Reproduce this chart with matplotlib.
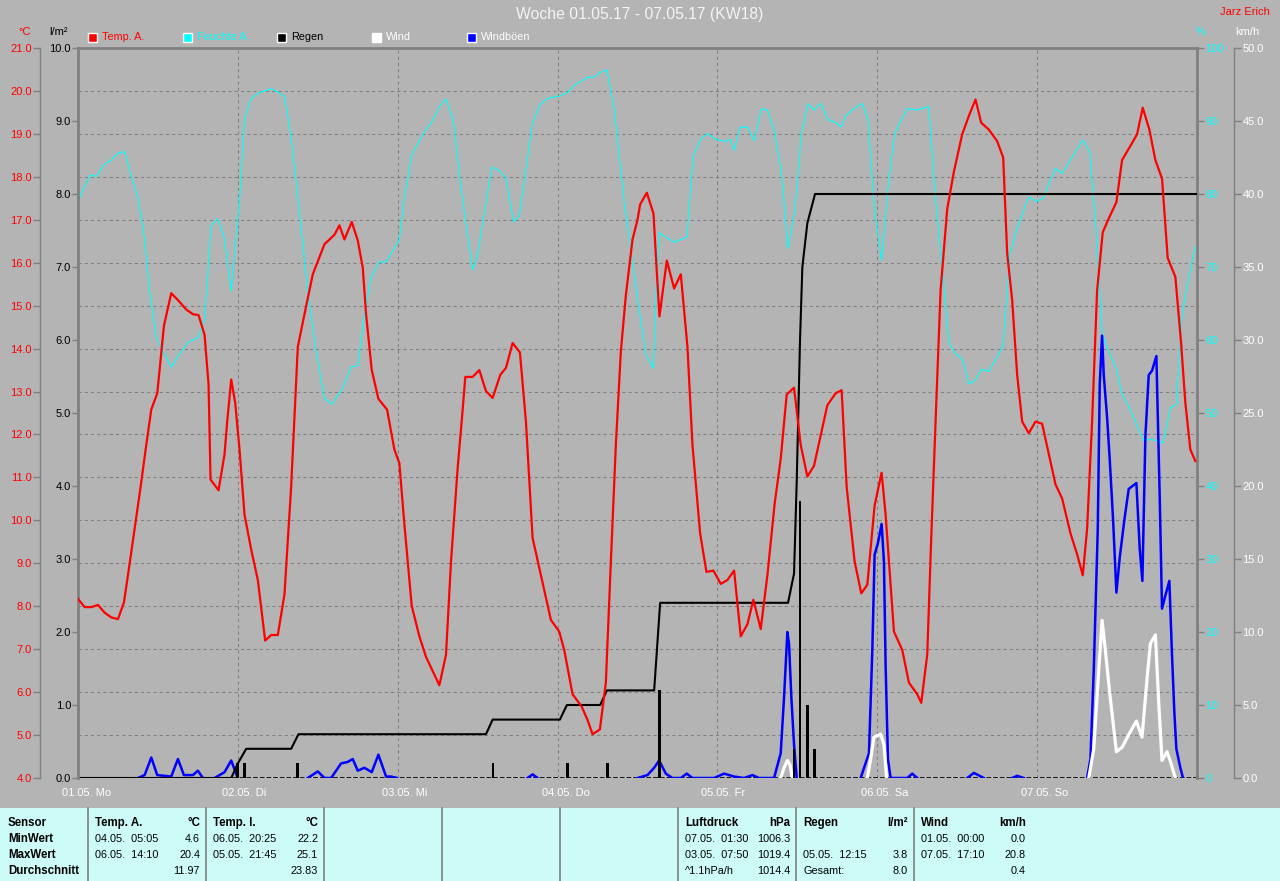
import numpy as np
import matplotlib
matplotlib.use('Agg')
import matplotlib.pyplot as plt
from matplotlib.patches import Rectangle
from matplotlib.lines import Line2D
from matplotlib.ticker import FormatStrFormatter
import matplotlib.transforms as mtrans

plt.rcParams['font.family'] = ['Liberation Sans', 'DejaVu Sans']

nan = np.nan

# ---- data (hours since 01.05. 00:00) ----
day_labels = ['01.05. Mo', '02.05. Di', '03.05. Mi', '04.05. Do',
              '05.05. Fr', '06.05. Sa', '07.05. So']

temp_h = [0, 1, 2, 3, 4, 5, 6, 6.9, 7.75, 8.6, 9.4, 10.25, 11, 11.9, 12.25, 12.9, 14,
          15, 16.25, 17.25, 18.1, 19, 19.6, 19.9, 21.1, 22, 22.4, 23, 23.6, 24.25, 25,
          26, 27, 28.1, 29, 30, 31, 32, 33, 34, 35.25, 37, 38.5, 39.25, 40, 41.1, 42,
          42.75, 43.25, 44.1, 45.1, 46.4, 47.5, 48.25, 49, 50.1, 51.25, 52.25, 53.25,
          54.25, 55.25, 56, 57, 57.6, 58.15, 59.25, 60.25, 61.25, 62.25, 63.4, 64.25,
          65.25, 66.35, 67.25, 68.25, 69.5, 71, 72.25, 73, 74.25, 75.6, 76.5, 77.25,
          78.35, 79.25, 80, 80.75, 81.5, 82.25, 83.25, 84, 84.4, 85.4, 86.4, 86.9, 87.3,
          88.4, 89.5, 90.5, 91.5, 92.25, 93.4, 94.35, 95.4, 96.5, 97.5, 98.5, 99.5,
          100.5, 101.4, 102.5, 103.5, 104.6, 105.5, 106.4, 107.5, 108.5, 109.5, 110.5,
          112.5, 113.75, 114.65, 115.4, 116.6, 117.6, 118.5, 119.6, 120.65, 121.25,
          122.5, 123.75, 124.75, 126, 126.6, 127.5, 128.1, 128.75, 129.5, 130.5, 131.5,
          132.75, 133.75, 134.75, 135.6, 136.75, 138, 138.9, 139.5, 140.25, 141, 141.75,
          142.75, 143.75, 144.75, 145.75, 146.75, 147.75, 149, 150, 150.85, 151.5,
          152.25, 153, 153.85, 154.75, 155.9, 156.75, 158, 159, 159.85, 160.85, 161.75,
          162.75, 163.6, 164.75, 165.6, 166.25, 167, 167.75]
temp_v = [8.17, 7.98, 7.98, 8.03, 7.85, 7.74, 7.70, 8.09, 8.99, 9.91, 10.78, 11.76, 12.58,
          12.96, 13.5, 14.53, 15.29, 15.13, 14.91, 14.80, 14.78, 14.32, 13.17, 10.95,
          10.70, 11.54, 12.30, 13.28, 12.74, 11.65, 10.13, 9.32, 8.61, 7.20, 7.33, 7.33,
          8.28, 10.78, 14.04, 14.80, 15.73, 16.43, 16.65, 16.87, 16.54, 16.95, 16.52,
          15.89, 14.80, 13.50, 12.83, 12.58, 11.65, 11.33, 9.91, 8.01, 7.30, 6.82, 6.49,
          6.16, 6.87, 9.04, 11.22, 12.30, 13.34, 13.34, 13.50, 13.01, 12.85, 13.39,
          13.55, 14.13, 13.91, 12.30, 9.59, 8.72, 7.68, 7.41, 6.98, 5.95, 5.67, 5.35,
          5.02, 5.13, 6.22, 9.04, 11.76, 13.93, 15.24, 16.54, 17.0, 17.36, 17.63, 17.14,
          15.78, 14.75, 16.05, 15.40, 15.73, 14.04, 11.76, 9.70, 8.80, 8.83, 8.52, 8.61,
          8.83, 7.30, 7.58, 8.15, 7.47, 8.72, 10.40, 11.43, 12.93, 13.09, 11.76, 11.02,
          11.27, 12.68, 12.96, 13.03, 10.78, 9.04, 8.30, 8.50, 10.35, 11.11, 10.13, 7.41,
          6.98, 6.22, 5.95, 5.75, 6.87, 9.59, 12.30, 15.35, 17.25, 18.12, 18.99, 19.42,
          19.80, 19.26, 19.10, 18.83, 18.45, 16.22, 15.13, 13.39, 12.30, 12.03, 12.30,
          12.25, 11.54, 10.84, 10.51, 9.70, 9.21, 8.72, 9.80, 12.30, 15.35, 16.71, 17.03,
          17.41, 18.39, 18.72, 18.99, 19.61, 19.10, 18.39, 17.96, 16.11, 15.67, 14.15,
          12.74, 11.65, 11.38]

hum_h = [0, 1, 1.9, 2.75, 4, 5, 6, 7, 7.9, 9, 10, 10.75, 11.75, 12.75, 14, 15.25, 16.5,
         18, 19, 20, 21, 22, 23, 23.75, 24.4, 25, 26, 27.25, 29, 30, 31, 32, 33, 34.5,
         35.75, 37, 38.1, 39.75, 41, 42, 43, 44, 45.25, 46.25, 48.25, 49, 50.1, 51, 52,
         53.25, 54.25, 55.25, 56.35, 57.5, 59.25, 60, 61, 62.15, 63.25, 64.25, 65.4,
         66.25, 67.25, 68.25, 69.4, 70.5, 72.25, 73.5, 74.5, 76.5, 77.5, 78.25, 79.4,
         80.5, 82, 83.25, 84, 85.25, 86.4, 86.75, 87.25, 89.5, 91.4, 92.4, 93.5, 94.5,
         95.75, 97.25, 97.9, 98.5, 99.4, 100.5, 101.5, 102.6, 103.5, 104.5, 105.6,
         106.6, 107.6, 108.6, 109.6, 110.5, 111.5, 112.6, 113.5, 114.6, 115.25, 116.5,
         117.75, 118.6, 119.6, 120.65, 121.6, 122.6, 123.5, 124.5, 126, 127.75, 128.6,
         129.75, 130.75, 131.75, 132.75, 133.75, 134.75, 135.65, 136.75, 138, 138.9,
         139.9, 140.9, 141.9, 142.75, 143.9, 144.9, 145.75, 146.75, 147.75, 148.75,
         149.9, 150.85, 151.9, 152.9, 153.75, 154.75, 155.85, 156.75, 157.85, 158.9,
         160, 161, 162, 162.9, 164, 164.9, 165.75, 166.5, 167.75]
hum_v = [78.9, 81.1, 82.6, 82.4, 84.1, 84.6, 85.6, 85.8, 82.7, 79.5, 73.8, 66.7, 60.3,
         58.4, 56.3, 58.1, 59.7, 60.3, 62.9, 75.7, 76.6, 73.8, 66.7, 74.4, 80.8, 90.4,
         93.1, 93.9, 94.4, 94.0, 93.3, 87.8, 79.5, 66.7, 58.4, 52.0, 51.2, 53.4, 56.3,
         56.5, 63.5, 68.6, 70.7, 70.7, 73.8, 79.5, 85.3, 86.9, 88.5, 90.1, 92.0, 93.0,
         90.1, 80.8, 69.6, 71.8, 77.3, 83.7, 83.2, 82.2, 76.2, 77.0, 83.4, 89.8, 92.3,
         93.1, 93.4, 93.9, 94.9, 96.0, 96.0, 96.6, 97.0, 91.7, 78.9, 70.6, 65.7, 58.1,
         56.1, 66.1, 74.7, 73.4, 74.1, 85.3, 87.5, 88.3, 87.5, 87.2, 87.5, 86.0, 89.1,
         89.2, 87.3, 91.7, 91.5, 88.8, 83.0, 72.5, 77.6, 88.2, 92.4, 91.5, 92.4, 90.2,
         89.9, 89.2, 90.7, 91.7, 92.4, 90.1, 77.6, 70.9, 80.8, 88.3, 89.9, 91.7, 91.5,
         92.0, 80.8, 69.9, 59.7, 58.1, 57.4, 54.0, 54.5, 56.0, 55.7, 57.7, 59.3, 71.8,
         75.0, 77.6, 79.6, 79.0, 79.4, 81.4, 83.5, 82.8, 84.3, 86.0, 87.4, 85.8, 74.4,
         60.9, 58.4, 56.1, 52.6, 50.7, 48.5, 46.2, 46.4, 46.2, 45.9, 50.7, 51.2, 63.5,
         67.3, 72.8]

rain_sum_h = [0, 23, 24, 25.25, 32, 33.1, 61.25, 62.25, 72.35, 73.4, 78.4, 79.4, 86.5,
              87.4, 106.6, 107.5, 107.9, 108.4, 108.75, 109.5, 110.65, 168]
rain_sum = [0, 0, 0.2, 0.4, 0.4, 0.6, 0.6, 0.8, 0.8, 1.0, 1.0, 1.2, 1.2, 2.4, 2.4, 2.8,
            4.05, 6.0, 7.0, 7.6, 8.0, 8.0]
rain_h = [24, 25, 33, 62.3, 73.5, 79.5, 87.3, 107.5, 108.4, 109.5, 110.6]
rain_mm = [0.2, 0.2, 0.2, 0.2, 0.2, 0.2, 1.2, 0.4, 3.8, 1.0, 0.4]

gust_h = [9, 10, 11, 11.9, 14, 15, 15.9, 17.25, 18, 18.75, nan,
          20.5, 22, 23, 23.9, nan,
          34.5, 36, 37, 38, 39.5, 40.5, 41.25, 42, 43, 44.1, 45.1, 46.25, 47, 47.9, nan,
          67.5, 68.25, 69, nan,
          84, 85.5, 86.5, 87.25, 88.25, 89.25, 90.5, 91.4, 92.25, 95.5, 97, 98.5, 100,
          101.25, 102.25, 104.5, 105.5, 106, 106.5, 106.75, 107.1, 107.5, 107.9, nan,
          117.5, 118.75, 119.25, 119.6, 120.1, 120.65, 121, 121.25, 121.6, 122, 124.5,
          125.25, 126, nan,
          133.5, 134.5, 136, nan, 140.25, 141, 142, nan,
          151.5, 152, 152.5, 153.1, 153.4, 153.75, 154, 154.5, 154.9, 155.4, 155.9,
          156.4, 157.1, 157.75, 158.9, 159.4, 159.8, 160.25, 160.75, 161.25, 161.9,
          162.4, 162.75, 163.25, 163.85, 164.25, 164.6, 164.9, 165.5, 165.9]
gust_v = [0, 0.2, 1.4, 0.2, 0.1, 1.3, 0.2, 0.2, 0.5, 0, nan,
          0, 0.4, 1.2, 0.1, nan,
          0, 0.45, 0, 0, 1.0, 1.1, 1.3, 0.5, 0.7, 0.4, 1.6, 0.1, 0.1, 0, nan,
          0, 0.25, 0, nan,
          0, 0.2, 0.7, 1.2, 0.3, 0, 0, 0.3, 0, 0, 0.3, 0.1, 0,
          0.2, 0, 0, 1.7, 5.5, 10.0, 9.2, 5.5, 2.3, 0, nan,
          0, 1.7, 8.7, 15.3, 16.1, 17.4, 14.8, 7.7, 1.3, 0, 0,
          0.3, 0, nan,
          0, 0.35, 0, nan, 0, 0.15, 0, nan,
          0, 1.3, 7.4, 17.0, 27.0, 30.3, 27.6, 24.7, 21.8, 17.7, 12.7,
          15.1, 17.7, 19.8, 20.2, 15.7, 13.5, 23.4, 27.6, 27.9, 28.9,
          19.3, 11.6, 12.5, 13.5, 8.4, 4.5, 2.0, 0.7, 0]

wind_h = [105.5, 106, 106.5, 106.9, 107.25, nan,
          118.5, 119, 119.5, 120.5, 121, 121.4, nan,
          151.75, 152.5, 153.25, 153.75, 154.25, 154.9, 155.9, 156.75, 157.9, 158.9,
          159.75, 160.5, 161, 161.75, 162.25, 162.75, 163.5, 164.1, 164.75]
wind_v = [0, 0.7, 1.2, 0.9, 0, nan,
          0, 1.3, 2.8, 3.0, 2.3, 0, nan,
          0, 2.0, 7.4, 10.8, 8.7, 5.8, 1.8, 2.1, 3.1, 3.9,
          2.8, 6.8, 9.2, 9.8, 5.2, 1.2, 1.8, 1.0, 0]

# table contents
tab_rows = ['Sensor', 'MinWert', 'MaxWert', 'Durchschnitt']
tab_cols = [
    ('Temp. A.', '°C', ['04.05.  05:05', '06.05.  14:10', ''], ['4.6', '20.4', '11.97']),
    ('Temp. I.', '°C', ['06.05.  20:25', '05.05.  21:45', ''], ['22.2', '25.1', '23.83']),
    ('Luftdruck', 'hPa', ['07.05.  01:30', '03.05.  07:50', '^1.1hPa/h'],
     ['1006.3', '1019.4', '1014.4']),
    ('Regen', 'l/m²', ['', '05.05.  12:15', 'Gesamt:'], ['', '3.8', '8.0']),
    ('Wind', 'km/h', ['01.05.  00:00', '07.05.  17:10', ''], ['0.0', '20.8', '0.4']),
]
tab_col_x = [95, 213, 685, 803, 921]
tab_dividers = [88, 206, 324, 442, 560, 678, 796, 914]

legend_items = [('Temp. A.', 'red', 'red'), ('Feuchte A.', 'cyan', 'cyan'),
                ('Regen', 'black', 'black'), ('Wind', 'white', 'white'),
                ('Windböen', 'blue', 'white')]
legend_x = [88, 183, 277, 372, 467]

# ---- layout ----
W, H = 1280, 881
BG = '#b4b4b4'
GRID = '#808080'
CYANBG = '#ccfbf8'


def fx(px):
    return px / W


def fy(py):
    return 1 - py / H


L, R, T, B = 78, 1197, 48, 778

fig = plt.figure(figsize=(W / 100, H / 100), dpi=100, facecolor=BG)
ax_t = fig.add_axes([fx(L), fy(B), (R - L) / W, (B - T) / H])
ax_t.set_facecolor(BG)
ax_t.set_xlim(0, 168)
ax_t.set_ylim(4, 21)
ax_t.set_yticks(np.arange(4, 22, 1))
ax_t.yaxis.set_major_formatter(FormatStrFormatter('%.1f'))
ax_t.set_xticks(np.arange(0, 168, 24))
ax_t.set_xticklabels(day_labels)
ax_t.grid(True, color=GRID, lw=0.75, ls=(0, (3, 3)))
for s in ['top', 'right', 'bottom']:
    ax_t.spines[s].set_visible(False)
ax_t.spines['left'].set_position(('axes', (40 - L) / (R - L)))
ax_t.spines['left'].set_color(GRID)
ax_t.spines['left'].set_linewidth(1)
ax_t.tick_params(axis='y', direction='out', length=5, width=1, color=GRID,
                 labelcolor='red', labelsize=8, pad=1)
ax_t.tick_params(axis='x', length=0, labelcolor='white', labelsize=8, pad=7)
shift = mtrans.ScaledTranslation(-16 / 100, 0, fig.dpi_scale_trans)
for lab in ax_t.get_xticklabels():
    lab.set_horizontalalignment('left')
    lab.set_transform(lab.get_transform() + shift)

# humidity
ax_h = ax_t.twinx()
ax_h.set_ylim(0, 100)
ax_h.set_yticks(np.arange(0, 101, 10))
for s in ['top', 'left', 'bottom']:
    ax_h.spines[s].set_visible(False)
ax_h.spines['right'].set_color(GRID)
ax_h.spines['right'].set_linewidth(2)
ax_h.tick_params(axis='y', direction='out', length=5, width=1, color=GRID,
                 labelcolor='cyan', labelsize=8, pad=1)
ax_h.axhline(0, color='black', lw=1.2, zorder=1)
ax_h.axhline(0, xmin=24 / 168, color='white', lw=1.2, ls=(0, (1, 3)), zorder=1)
ax_h.plot(hum_h, hum_v, color='cyan', lw=0.8)

# wind
ax_w = ax_t.twinx()
ax_w.set_ylim(0, 50)
ax_w.set_yticks(np.arange(0, 51, 5))
ax_w.yaxis.set_major_formatter(FormatStrFormatter('%.1f'))
for s in ['top', 'left', 'bottom']:
    ax_w.spines[s].set_visible(False)
ax_w.spines['right'].set_position(('axes', (1234 - L) / (R - L)))
ax_w.spines['right'].set_color(GRID)
ax_w.spines['right'].set_linewidth(1)
ax_w.tick_params(axis='y', direction='out', length=5, width=1, color=GRID,
                 labelcolor='white', labelsize=8, pad=1)
ax_w.plot(gust_h, gust_v, color='blue', lw=1.8)
ax_w.plot(wind_h, wind_v, color='white', lw=2.3)

# rain
ax_r = ax_t.twinx()
ax_r.yaxis.tick_left()
ax_r.set_ylim(0, 10)
ax_r.set_yticks(np.arange(0, 11, 1))
ax_r.yaxis.set_major_formatter(FormatStrFormatter('%.1f'))
for s in ['right', 'bottom']:
    ax_r.spines[s].set_visible(False)
for s in ['left', 'top']:
    ax_r.spines[s].set_color(GRID)
    ax_r.spines[s].set_linewidth(2)
ax_r.tick_params(axis='y', direction='out', length=4, width=1, color=GRID,
                 labelcolor='black', labelsize=8, pad=1)
ax_r.bar(rain_h, rain_mm, width=0.42, color='black')
ax_r.plot(rain_sum_h, rain_sum, color='black', lw=1.5)

# temperature on top
ax_top = ax_t.twinx()
ax_top.set_ylim(4, 21)
ax_top.axis('off')
ax_top.plot(temp_h, temp_v, color='red', lw=1.6)

# ---- texts around the chart ----
fig.text(0.5, fy(15), 'Woche 01.05.17 - 07.05.17 (KW18)', color='#f4f4f4',
         fontsize=11.3, ha='center', va='center')
fig.text(fx(1245), fy(12), 'Jarz Erich', color='red', fontsize=8, ha='center',
         va='center')
fig.text(fx(25), fy(32), '°C', color='red', fontsize=8, ha='center', va='center')
fig.text(fx(58), fy(32), 'l/m²', color='black', fontsize=8, ha='center', va='center')
fig.text(fx(1201), fy(32), '%', color='cyan', fontsize=8, ha='center', va='center')
fig.text(fx(1247), fy(32), 'km/h', color='white', fontsize=8, ha='center', va='center')

for (name, c, tc), x in zip(legend_items, legend_x):
    fig.add_artist(Rectangle((fx(x), fy(42)), 9 / W, 9 / H, transform=fig.transFigure,
                             facecolor=c, edgecolor='white', lw=1))
    fig.text(fx(x + 14), fy(37.5), name, color=tc, fontsize=7.8, ha='left',
             va='center')

# ---- statistics table ----
fig.add_artist(Rectangle((0, 0), 1, fy(808), transform=fig.transFigure,
                         facecolor=CYANBG, edgecolor='none'))
for x in tab_dividers:
    fig.add_artist(Line2D([fx(x), fx(x)], [0, fy(808)], transform=fig.transFigure,
                          color=GRID, lw=1.2))
row_y = [823, 839, 855, 871]
for ry, txt in zip(row_y, tab_rows):
    fig.text(fx(8), fy(ry), txt, fontsize=8.3, fontweight='bold', va='center')
for x, (head, unit, dates, vals) in zip(tab_col_x, tab_cols):
    xr = x + 105
    fig.text(fx(x), fy(row_y[0]), head, fontsize=8.3, fontweight='bold', va='center')
    fig.text(fx(xr), fy(row_y[0]), unit, fontsize=8.3, fontweight='bold', va='center',
             ha='right')
    for ry, d, v in zip(row_y[1:], dates, vals):
        fig.text(fx(x), fy(ry), d, fontsize=7.8, va='center')
        fig.text(fx(xr), fy(ry), v, fontsize=7.8, va='center', ha='right')

fig.savefig('out.png', dpi=100, facecolor=BG)
